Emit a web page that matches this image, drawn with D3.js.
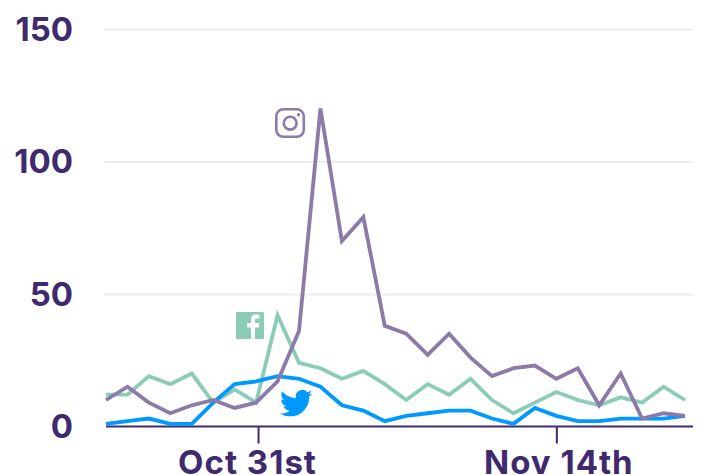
<!DOCTYPE html>
<html>
<head>
<meta charset="utf-8">
<script src="https://cdn.jsdelivr.net/npm/d3@7"></script>
<style>
  html, body { margin: 0; padding: 0; background: #fff; overflow: hidden; }
  svg { display: block; }
  .tick text { font-family: "Inter", sans-serif; font-weight: 700; fill: #3f2a6e; }
</style>
</head>
<body>
<script>
'use strict';

// one value per day, starting Oct 24th
const instagram = [10,15,9,5,8,10,7,9,17,36,120,70,79,38,35,27,35,26,19,22,23,18,22,8,20,3,5,4];
const facebook = [12,12,19,16,20,9,14,9,42,24,22,18,21,16,10,16,12,18,10,5,9,13,10,8,11,9,15,10];
const twitter = [1,2,3,1,1,9,16,17,19,18,15,8,6,2,4,5,6,6,3,1,7,4,2,2,3,3,3,4];

const yTicks = [0, 50, 100, 150];
const xTickDays = [7.09, 21];
const xTickLabels = ['Oct 31st', 'Nov 14th'];

const purple = '#3f2a6e';

const svg = d3.select('body')
  .append('svg')
  .attr('width', 702)
  .attr('height', 475);

const x = d3.scaleLinear().domain([0, 27]).range([106, 685]);
const y = d3.scaleLinear().domain([0, 150]).range([426.5, 29]);

// y axis and gridlines
const yAxis = d3.axisLeft(y).tickValues(yTicks).tickSize(0).tickPadding(31);
svg.append('g')
  .attr('transform', 'translate(104,0)')
  .call(yAxis)
  .call(g => g.select('.domain').remove())
  .call(g => g.selectAll('.tick line')
    .attr('x2', 589)
    .attr('stroke', '#eeecf3')
    .attr('stroke-width', 2))
  .call(g => g.selectAll('.tick text').style('font-size', '33px').attr('dy', '0.34em'));

// hide the gridline under the baseline
svg.selectAll('.tick line').filter(d => d === 0).remove();

// x axis
const xAxis = d3.axisBottom(x)
  .tickValues(xTickDays)
  .tickFormat((d, i) => xTickLabels[i])
  .tickSize(17)
  .tickPadding(7);
svg.append('g')
  .attr('transform', 'translate(0,426.5)')
  .call(xAxis)
  .call(g => g.select('.domain')
    .attr('d', 'M106,0H693')
    .attr('stroke', purple)
    .attr('stroke-width', 2))
  .call(g => g.selectAll('.tick line').attr('stroke', purple).attr('stroke-width', 2))
  .call(g => g.selectAll('.tick text')
    .style('font-size', '33px')
    .style('letter-spacing', '1px')
    .attr('x', (d, i) => (i === 0 ? -11 : 2)));

// lines
const line = d3.line()
  .x((d, i) => x(i))
  .y(d => y(d));

const series = [
  { values: facebook, color: '#8ccbb8' },
  { values: twitter, color: '#0099ff' },
  { values: instagram, color: '#8c7ba8' }
];

svg.selectAll('.series')
  .data(series)
  .enter()
  .append('path')
  .attr('class', 'series')
  .attr('d', d => line(d.values))
  .attr('fill', 'none')
  .attr('stroke', d => d.color)
  .attr('stroke-width', 3.8)
  .attr('stroke-linejoin', 'miter');

// instagram icon
const ig = svg.append('g')
  .attr('transform', 'translate(275,108)')
  .attr('fill', 'none')
  .attr('stroke', '#8c7ba8')
  .attr('stroke-width', 2.6);
ig.append('rect').attr('x', 1.3).attr('y', 1.3).attr('width', 27.5).attr('height', 27.5).attr('rx', 7);
ig.append('circle').attr('cx', 15.2).attr('cy', 15.2).attr('r', 6.4);
ig.append('circle').attr('cx', 23.5).attr('cy', 6.8).attr('r', 1.7).attr('fill', '#8c7ba8').attr('stroke', 'none');

// facebook icon
const fb = svg.append('g').attr('transform', 'translate(236,312)');
fb.append('rect').attr('width', 28).attr('height', 27).attr('rx', 1).attr('fill', '#8ccbb8');
fb.append('path')
  .attr('fill', '#fff')
  .attr('d', 'M15,27V15.5H11.2V11H15V7.8C15,4.2,17.2,2.5,20.2,2.5C21.6,2.5,23,2.6,23.4,2.7V6.6H21C19.3,6.6,19,7.4,19,8.6V11H23.3L22.7,15.5H19V27Z');

// twitter icon
svg.append('path')
  .attr('transform', 'translate(280,387) scale(1.35)')
  .attr('fill', '#0099ff')
  .attr('d', 'M23.953 4.57a10 10 0 01-2.825.775 4.958 4.958 0 002.163-2.723c-.951.555-2.005.959-3.127 1.184a4.92 4.92 0 00-8.384 4.482C7.69 8.095 4.067 6.13 1.64 3.162a4.822 4.822 0 00-.666 2.475c0 1.71.87 3.213 2.188 4.096a4.904 4.904 0 01-2.228-.616v.06a4.923 4.923 0 003.946 4.827 4.996 4.996 0 01-2.212.085 4.936 4.936 0 004.604 3.417 9.867 9.867 0 01-6.102 2.105c-.39 0-.779-.023-1.17-.067a13.995 13.995 0 007.557 2.209c9.053 0 13.998-7.496 13.998-13.985 0-.21 0-.42-.015-.63A9.935 9.935 0 0024 4.59z');
</script>
</body>
</html>
